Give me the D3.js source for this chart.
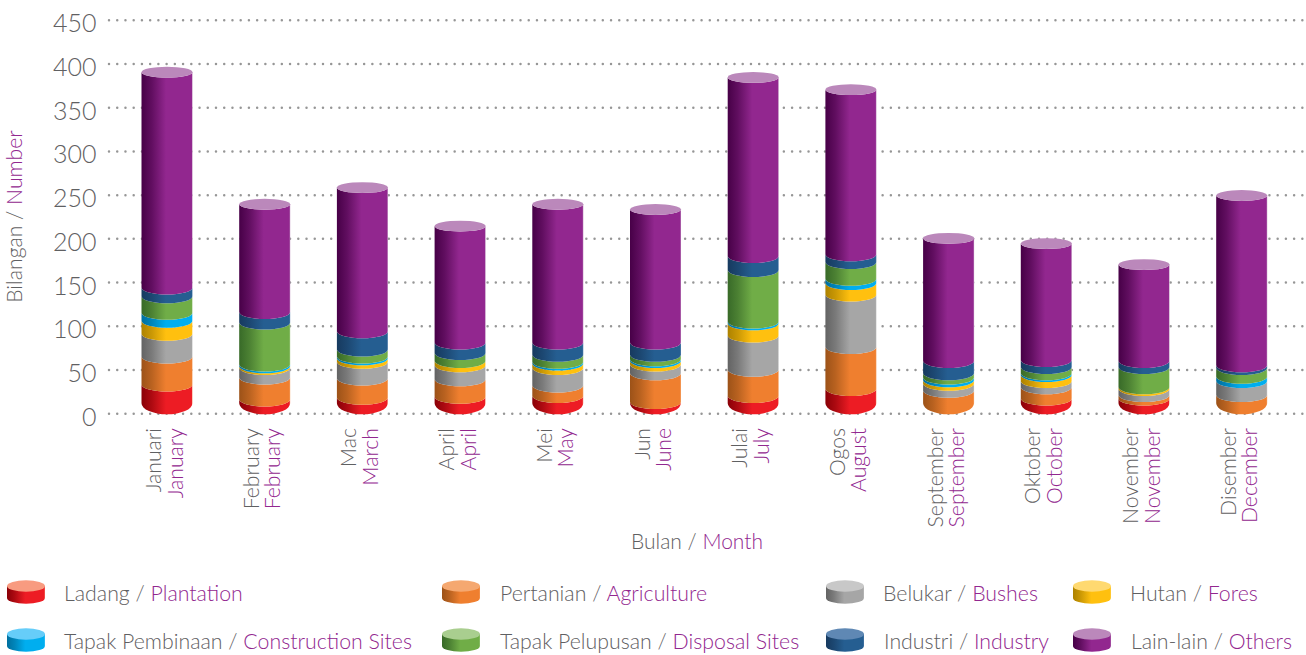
<!DOCTYPE html>
<html><head><meta charset="utf-8">
<script src="https://cdn.jsdelivr.net/npm/d3@7/dist/d3.min.js"></script>
<style>
html,body{margin:0;padding:0;background:#fff;overflow:hidden}
svg{display:block}
text{font-family:Lato,"Open Sans",sans-serif;font-weight:300}
</style></head><body>
<svg id="c" width="1306" height="655"></svg>
<script>
const monthsMs=["Januari","February","Mac","April","Mei","Jun","Julai","Ogos","September","Oktober","November","Disember"];
const monthsEn=["January","February","March","April","May","June","July","August","September","October","November","December"];
const seriesMs=["Ladang","Pertanian","Belukar","Hutan","Tapak Pembinaan","Tapak Pelupusan","Industri","Lain-lain"];
const seriesEn=["Plantation","Agriculture","Bushes","Fores","Construction Sites","Disposal Sites","Industry","Others"];
const plantation=[26,9,11,12,13,6,13,21,0,10,10,0];
const agriculture=[32,25,22,20,12,33,30,48,19,13,4,14];
const bushes=[26,11,19,16,20,10,39,60,8,7,7,16];
const forest=[15,2,4,5,5,4,14,13,4,7,2,0];
const construction=[9,2,2,0,2,2,2,5,3,2,0,5];
const disposal=[19,48,8,9,8,5,59,19,5,7,23,10];
const industry=[10,12,21,12,14,14,16,9,14,8,7,3];
const others=[248,125,166,135,160,154,206,190,142,135,112,196];
const yTicks=[0,50,100,150,200,250,300,350,400,450];
const allSeries=[plantation,agriculture,bushes,forest,construction,disposal,industry,others];
const dark=["#8a0007","#9c5218","#636363","#ad8200","#006f9e","#386a28","#173a5f","#470047"];
const main=["#ed1c24","#ef7f2f","#a6a6a6","#ffc00f","#00aeef","#70ad47","#255e91","#92278f"];
const light=["#f89b80","#f5a870","#c8c8c8","#ffd970","#66cdf9","#a9ce8f","#5f88b4","#bb88bb"];

const GREY="#5f6062",PURPLE="#92278f";
const svg=d3.select("#c");
const defs=svg.append("defs");
main.forEach((c,i)=>{
  const g=defs.append("linearGradient").attr("id","g"+i);
  g.append("stop").attr("offset","0").attr("stop-color",dark[i]);
  g.append("stop").attr("offset","0.2").attr("stop-color",d3.interpolateRgb(dark[i],c)(0.35));
  g.append("stop").attr("offset","0.48").attr("stop-color",c);
  g.append("stop").attr("offset","0.98").attr("stop-color",c);
  g.append("stop").attr("offset","1").attr("stop-color",light[i]);
});

const y=d3.scaleLinear().domain([0,450]).range([413.3,19.7]);
const x=d3.scalePoint().domain(monthsMs).range([167,1241.7]);
const halfW=25.5, ryTop=5.4, ryMid=7, ryBase=11;
const yFront=v=>y(v)+1;

// grid + y axis
const axis=svg.append("g").attr("transform","translate(109,0)")
  .call(d3.axisLeft(y).tickValues(yTicks).tickSize(0).tickPadding(12.5).tickFormat(d3.format("d")));
axis.select(".domain").remove();
axis.selectAll("text").attr("font-size",25).attr("fill",GREY).attr("dy","0.48em")
  .attr("style","font-family:Lato;font-weight:300");
axis.selectAll(".tick").append("line").attr("x1",0).attr("x2",1197)
  .attr("stroke","#969696").attr("stroke-width",2.5).attr("stroke-linecap","round").attr("stroke-dasharray","0 8.23");

// cylinders
const stacked=monthsMs.map((m,mi)=>{let c=0;return allSeries.map((s,si)=>{const o={m,si,v0:c,v1:c+s[mi]};c+=s[mi];return o;});});
const bars=svg.append("g");
stacked.forEach(col=>{
  const cx=x(col[0].m);
  const g=bars.append("g");
  const total=col[col.length-1].v1;
  g.selectAll("path.seg").data(col.filter(d=>d.v1>d.v0)).join("path").attr("class","seg")
    .attr("fill",d=>`url(#g${d.si})`)
    .attr("d",d=>{
      const rt=d.v1===total?ryTop:ryMid, rb=d.v0===0?ryBase:ryMid;
      const t=yFront(d.v1)-rt,b=yFront(d.v0)-rb,l=cx-halfW,r=cx+halfW;
      return `M${l},${t}A${halfW},${rt} 0 0 0 ${r},${t}L${r},${b}A${halfW},${rb} 0 0 1 ${l},${b}Z`;
    });
  const top=col[col.length-1];
  g.append("ellipse").attr("cx",cx).attr("cy",yFront(total)-ryTop).attr("rx",halfW).attr("ry",ryTop).attr("fill",light[top.si]);
});

// month labels
const lab=svg.append("g");
monthsMs.forEach((m,i)=>{
  lab.append("text").attr("font-size",21.2).attr("text-anchor","end")
    .attr("transform",`translate(${x(m)-6},428) rotate(-90)`).attr("fill",GREY).text(m);
  lab.append("text").attr("font-size",21.2).attr("text-anchor","end")
    .attr("transform",`translate(${x(m)+15.5},428) rotate(-90)`).attr("fill",PURPLE).text(monthsEn[i]);
});

function duo(sel,a,b){
  sel.append("tspan").attr("fill",GREY).text(a+" / ");
  sel.append("tspan").attr("fill",PURPLE).text(b);
}
svg.append("text").attr("font-size",21.2).attr("text-anchor","middle")
  .attr("transform","translate(22,216.5) rotate(-90)").call(duo,"Bilangan","Number");
svg.append("text").attr("font-size",21).attr("text-anchor","middle")
  .attr("x",697).attr("y",549).call(duo,"Bulan","Month");

// legend
const legX=[7,442,826,1073], legTx=[64,500,883,1130], legY=[598,646];
const order=[[0,1,2,3],[4,5,6,7]];
order.forEach((row,ri)=>row.forEach((si,ci)=>{
  const g=svg.append("g").attr("transform",`translate(${legX[ci]},${legY[ri]-12})`);
  const w=19,ryL=5.8,h=12;
  g.append("path").attr("fill",`url(#g${si})`)
    .attr("d",`M0,0L${2*w},0L${2*w},${h}A${w},${ryL} 0 0 1 0,${h}Z`);
  g.append("ellipse").attr("cx",w).attr("cy",0).attr("rx",w).attr("ry",ryL).attr("fill",light[si]);
  svg.append("text").attr("font-size",21.3).attr("x",legTx[ci]+(ri==1&&ci>=2?1:0)).attr("y",legY[ri]+3)
    .call(duo,seriesMs[si],seriesEn[si]);
}));
</script>
</body></html>
